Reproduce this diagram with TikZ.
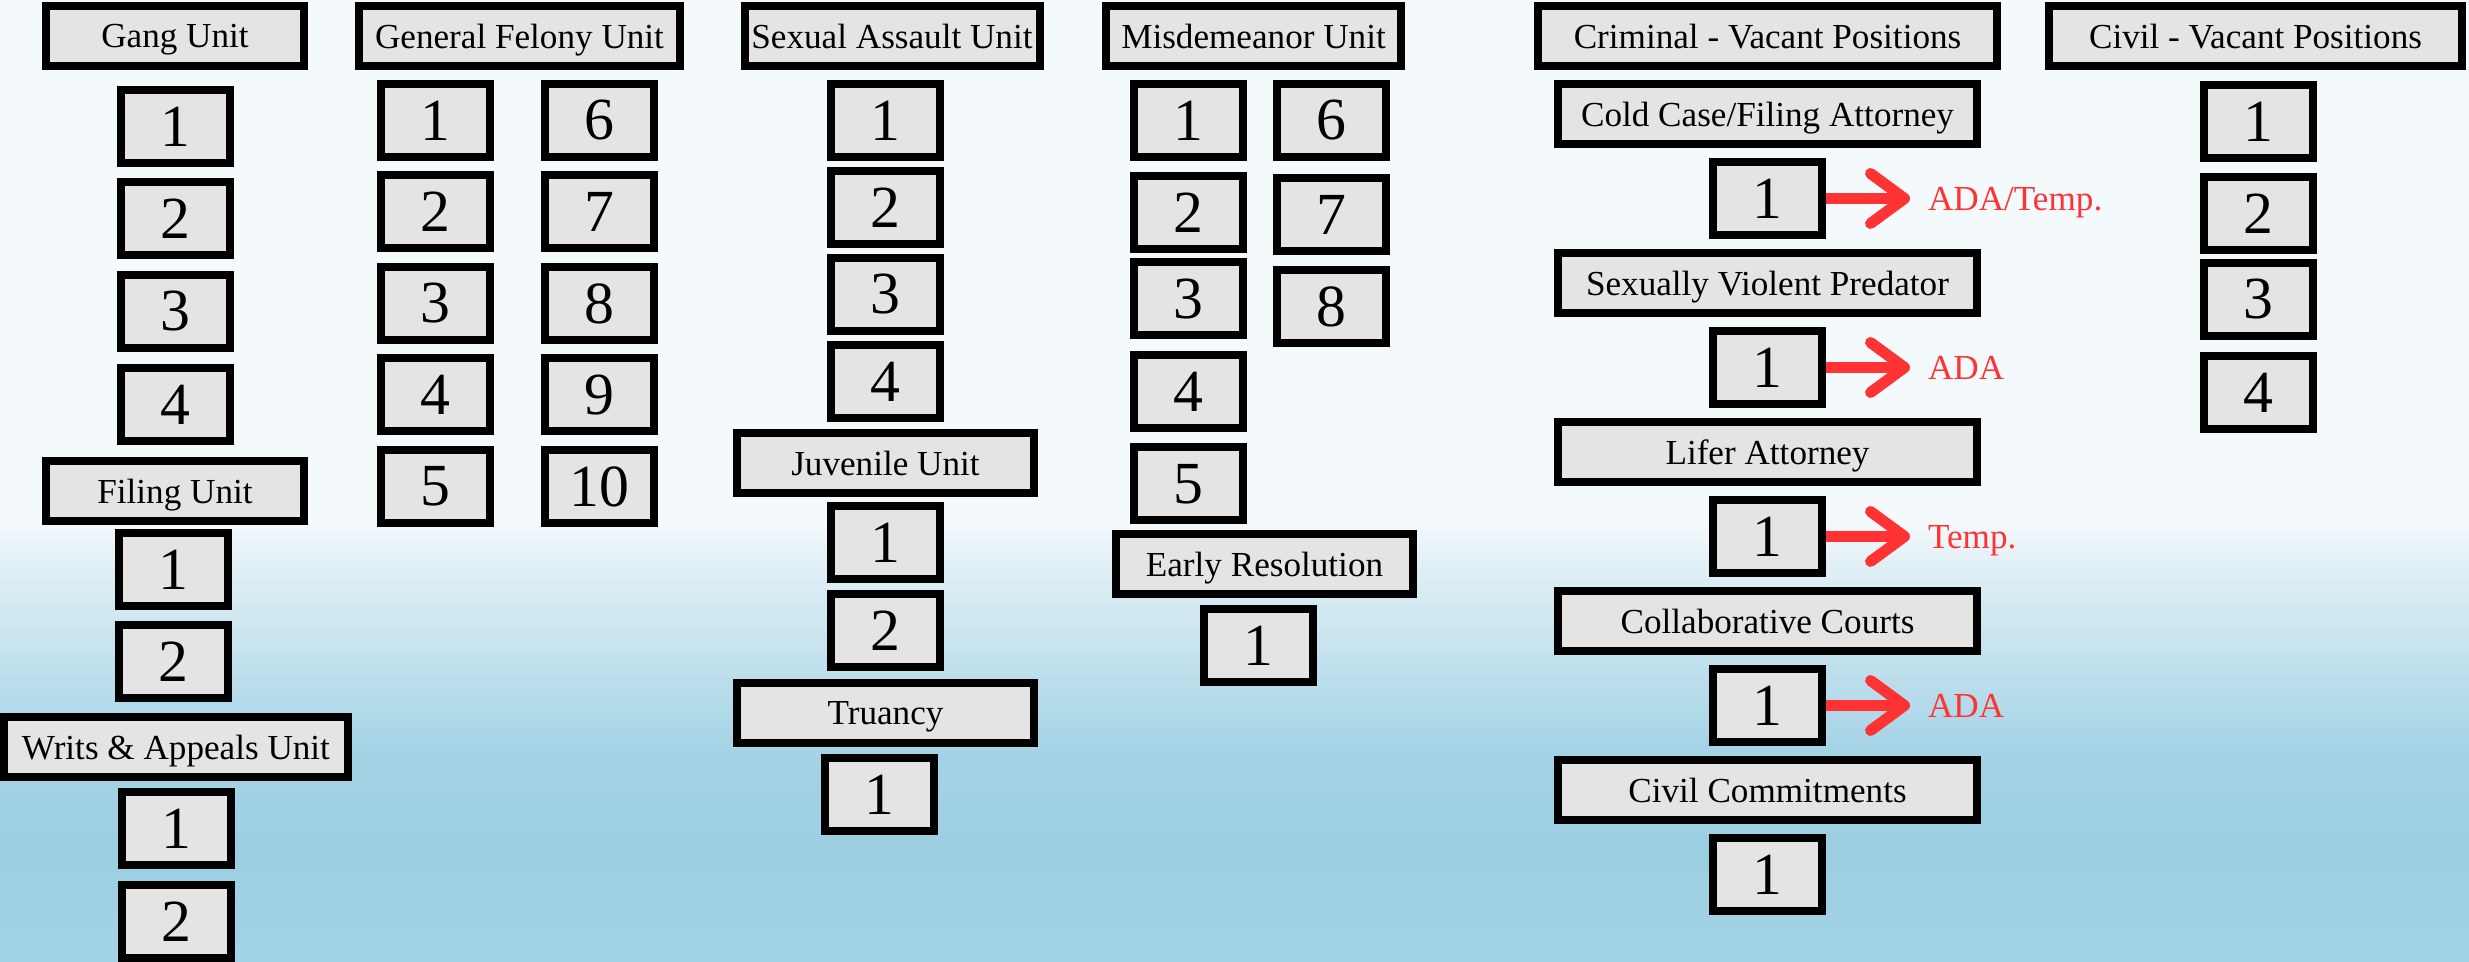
\documentclass[tikz,border=0pt]{standalone}
\usepackage{fontspec}
\setmainfont{Liberation Serif}
\usepackage{xcolor}
\usepackage{tikz}
\usetikzlibrary{arrows.meta, positioning}

\definecolor{boxgray}{HTML}{E5E4E2}
\definecolor{arrowred}{HTML}{FF3333}
\definecolor{bgpale}{HTML}{F4F9FC}
\definecolor{bgmid}{HTML}{E2F0F6}
\definecolor{bgblue}{HTML}{A6D4E6}
\definecolor{bgdeep}{HTML}{9CCEE2}
\definecolor{bglow}{HTML}{A3D3E6}

\begin{document}
\begin{tikzpicture}[
    >=Stealth,
    font=\fontsize{10}{12}\selectfont,
    % Box Styles
    unithdr/.style={rectangle, draw=black, line width=0.08cm, fill=boxgray, minimum height=0.6cm, inner sep=0pt, outer sep=0pt, text depth=0pt, align=center},
    rolehdr/.style={unithdr, minimum width=4.19cm},
    slot/.style={rectangle, draw=black, line width=0.08cm, fill=boxgray, minimum width=1.09cm, minimum height=0.73cm, inner sep=0pt, outer sep=0pt, font=\fontsize{17}{20}\selectfont},
    moveto/.style={draw=arrowred, line width=0.11cm, -{Straight Barb[length=0.34cm, width=0.5cm, round]}, shorten <=0.04cm, shorten >=0.18cm},
    movelbl/.style={text=arrowred, inner sep=0pt, outer sep=0pt, text depth=0pt}
]

% Background
\useasboundingbox (0,0) rectangle (24.69,-9.62);
\fill[bgpale] (0,0) rectangle (24.69,-5.25);
\fill[top color=bgpale, bottom color=bgmid] (0,-5.22) rectangle (24.69,-5.65);
\fill[top color=bgmid, bottom color=bgblue] (0,-5.62) rectangle (24.69,-7.45);
\fill[top color=bgblue, bottom color=bgdeep] (0,-7.42) rectangle (24.69,-8.5);
\fill[top color=bgdeep, bottom color=bglow] (0,-8.47) rectangle (24.69,-9.62);

% ========================================================
% GANG / FILING / WRITS
% ========================================================

\node[unithdr, minimum width=2.58cm] (gang) at (1.75,-0.36) {Gang Unit};
\node[slot, below=0.24cm of gang] (gang1) {1};
\node[slot, below=0.19cm of gang1] (gang2) {2};
\node[slot, below=0.20cm of gang2] (gang3) {3};
\node[slot, below=0.20cm of gang3] (gang4) {4};

\node[unithdr, minimum width=2.58cm, below=0.20cm of gang4] (filing) {Filing Unit};
\node[slot, below=0.12cm of filing, xshift=-0.02cm] (filing1) {1};
\node[slot, below=0.19cm of filing1] (filing2) {2};

\node[unithdr, minimum width=3.44cm, below=0.19cm of filing2, xshift=0.03cm] (writs) {Writs \& Appeals Unit};
\node[slot, below=0.15cm of writs] (writs1) {1};
\node[slot, below=0.20cm of writs1] (writs2) {2};

% ========================================================
% GENERAL FELONY
% ========================================================

\node[unithdr, minimum width=3.21cm] (felony) at (5.195,-0.36) {General Felony Unit};
\node[slot, below=0.18cm of felony, xshift=-0.84cm] (felony1) {1};
\node[slot, below=0.185cm of felony1] (felony2) {2};
\node[slot, below=0.185cm of felony2] (felony3) {3};
\node[slot, below=0.185cm of felony3] (felony4) {4};
\node[slot, below=0.185cm of felony4] (felony5) {5};
\node[slot, right=0.55cm of felony1] (felony6) {6};
\node[slot, right=0.55cm of felony2] (felony7) {7};
\node[slot, right=0.55cm of felony3] (felony8) {8};
\node[slot, right=0.55cm of felony4] (felony9) {9};
\node[slot, right=0.55cm of felony5] (felony10) {10};

% ========================================================
% SEXUAL ASSAULT / JUVENILE / TRUANCY
% ========================================================

\node[unithdr, minimum width=2.95cm] (sexual) at (8.92,-0.36) {Sexual Assault Unit};
\node[slot, below=0.18cm of sexual, xshift=-0.065cm] (sexual1) {1};
\node[slot, below=0.14cm of sexual1] (sexual2) {2};
\node[slot, below=0.14cm of sexual2] (sexual3) {3};
\node[slot, below=0.14cm of sexual3] (sexual4) {4};

\node[unithdr, minimum width=2.97cm, below=0.15cm of sexual4] (juvenile) {Juvenile Unit};
\node[slot, below=0.13cm of juvenile] (juvenile1) {1};
\node[slot, below=0.15cm of juvenile1] (juvenile2) {2};

\node[unithdr, minimum width=2.97cm, below=0.16cm of juvenile2] (truancy) {Truancy};
\node[slot, below=0.15cm of truancy, xshift=-0.065cm] (truancy1) {1};

% ========================================================
% MISDEMEANOR / EARLY RESOLUTION
% ========================================================

\node[unithdr, minimum width=2.95cm] (misd) at (12.535,-0.36) {Misdemeanor Unit};
\node[slot, below=0.18cm of misd, xshift=-0.65cm] (misd1) {1};
\node[slot, below=0.19cm of misd1] (misd2) {2};
\node[slot, below=0.135cm of misd2] (misd3) {3};
\node[slot, below=0.20cm of misd3] (misd4) {4};
\node[slot, below=0.19cm of misd4] (misd5) {5};
\node[slot, right=0.34cm of misd1] (misd6) {6};
\node[slot, below=0.215cm of misd6] (misd7) {7};
\node[slot, below=0.19cm of misd7] (misd8) {8};

\node[unithdr, minimum width=2.97cm, below=0.14cm of misd5, xshift=0.76cm] (early) {Early Resolution};
\node[slot, below=0.145cm of early, xshift=-0.065cm] (early1) {1};

% ========================================================
% CRIMINAL - VACANT POSITIONS
% ========================================================

\node[unithdr, minimum width=4.59cm] (criminal) at (17.675,-0.36) {Criminal - Vacant Positions};

\node[rolehdr, below=0.18cm of criminal] (coldcase) {Cold Case/Filing Attorney};
\node[slot, below=0.18cm of coldcase] (coldcase1) {1};
\node[movelbl, right=1.06cm of coldcase1] (coldcasenote) {ADA/Temp.};
\draw[moveto] (coldcase1.east) -- (coldcasenote.west);

\node[rolehdr, below=0.18cm of coldcase1] (svp) {Sexually Violent Predator};
\node[slot, below=0.18cm of svp] (svp1) {1};
\node[movelbl, right=1.06cm of svp1] (svpnote) {ADA};
\draw[moveto] (svp1.east) -- (svpnote.west);

\node[rolehdr, below=0.18cm of svp1] (lifer) {Lifer Attorney};
\node[slot, below=0.18cm of lifer] (lifer1) {1};
\node[movelbl, right=1.06cm of lifer1] (lifernote) {Temp.};
\draw[moveto] (lifer1.east) -- (lifernote.west);

\node[rolehdr, below=0.18cm of lifer1] (collab) {Collaborative Courts};
\node[slot, below=0.18cm of collab] (collab1) {1};
\node[movelbl, right=1.06cm of collab1] (collabnote) {ADA};
\draw[moveto] (collab1.east) -- (collabnote.west);

\node[rolehdr, below=0.18cm of collab1] (civcomm) {Civil Commitments};
\node[slot, below=0.18cm of civcomm] (civcomm1) {1};

% ========================================================
% CIVIL - VACANT POSITIONS
% ========================================================

\node[unithdr, minimum width=4.13cm] (civil) at (22.555,-0.36) {Civil - Vacant Positions};
\node[slot, below=0.19cm of civil, xshift=0.03cm] (civil1) {1};
\node[slot, below=0.19cm of civil1] (civil2) {2};
\node[slot, below=0.13cm of civil2] (civil3) {3};
\node[slot, below=0.20cm of civil3] (civil4) {4};

\end{tikzpicture}
\end{document}
